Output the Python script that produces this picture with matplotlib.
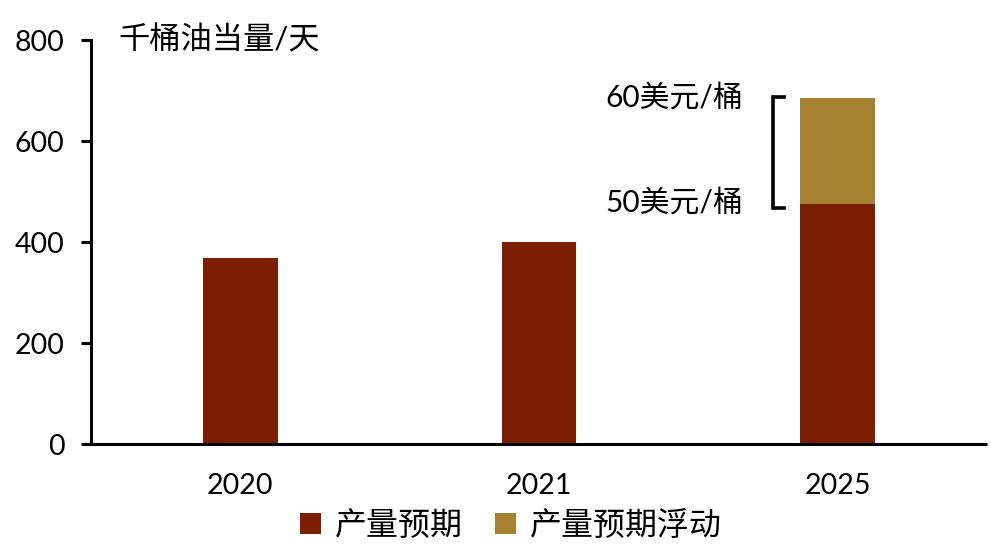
import matplotlib
matplotlib.use("Agg")
import matplotlib.pyplot as plt
from matplotlib.patches import Patch

plt.rcParams['font.family'] = ['Lato', 'Noto Sans CJK SC', 'DejaVu Sans']

categories = ['2020', '2021', '2025']
base_values = [369, 400, 475]
float_values = [0, 0, 210]
yticks = [0, 200, 400, 600, 800]
unit_label = '千桶油当量/天'
series_names = ['产量预期', '产量预期浮动']
price_labels = ['60美元/桶', '50美元/桶']

c_base = '#7C1E00'
c_float = '#A6812F'

fig = plt.figure(figsize=(9.91, 5.58), dpi=100)
ax = fig.add_axes([0.0918, 0.2043, 0.9042, 0.724])

x = list(range(len(categories)))
w = 0.25
ax.bar(x, base_values, width=w, color=c_base, zorder=2)
ax.bar(x, float_values, width=w, bottom=base_values, color=c_float, zorder=2)

ax.set_xlim(-0.5, 2.5)
ax.set_ylim(0, 800)
ax.set_yticks(yticks)
ax.set_xticks(x)
ax.set_xticklabels(categories)

for s in ['top', 'right']:
    ax.spines[s].set_visible(False)
for s in ['left', 'bottom']:
    ax.spines[s].set_linewidth(2.2)
    ax.spines[s].set_color('black')
ax.spines['bottom'].set_capstyle('butt')

ax.tick_params(axis='y', length=7, width=2.2, direction='out', labelsize=20.5, pad=12)
ax.tick_params(axis='x', length=0, labelsize=20.5, pad=21)

# unit label
fig.text(118 / 991, 1 - 40 / 558, unit_label, fontsize=22.5, ha='left', va='center')

# bracket for 2025 range
i = 2
lo = base_values[i] - 8
hi = base_values[i] + float_values[i] + 2
bx = i - w / 2 - 0.09
tick = 0.034
ax.plot([bx + tick, bx, bx, bx + tick], [hi, hi, lo, lo], color='black', lw=2.6,
        solid_joinstyle='miter', clip_on=False, zorder=3)

ax.text(i - w / 2 - 0.19, base_values[i] + float_values[i] + 2, price_labels[0],
        fontsize=21.5, ha='right', va='center')
ax.text(i - w / 2 - 0.19, base_values[i] + 4, price_labels[1],
        fontsize=21.5, ha='right', va='center')

handles = [Patch(facecolor=c_base, edgecolor='none'), Patch(facecolor=c_float, edgecolor='none')]
fig.legend(handles, series_names, loc='center', bbox_to_anchor=(511 / 991, 1 - 526 / 558),
           ncol=2, frameon=False, fontsize=23, handlelength=0.65, handleheight=0.65,
           handletextpad=0.45, columnspacing=1.0)

fig.savefig('out.png', dpi=100)
